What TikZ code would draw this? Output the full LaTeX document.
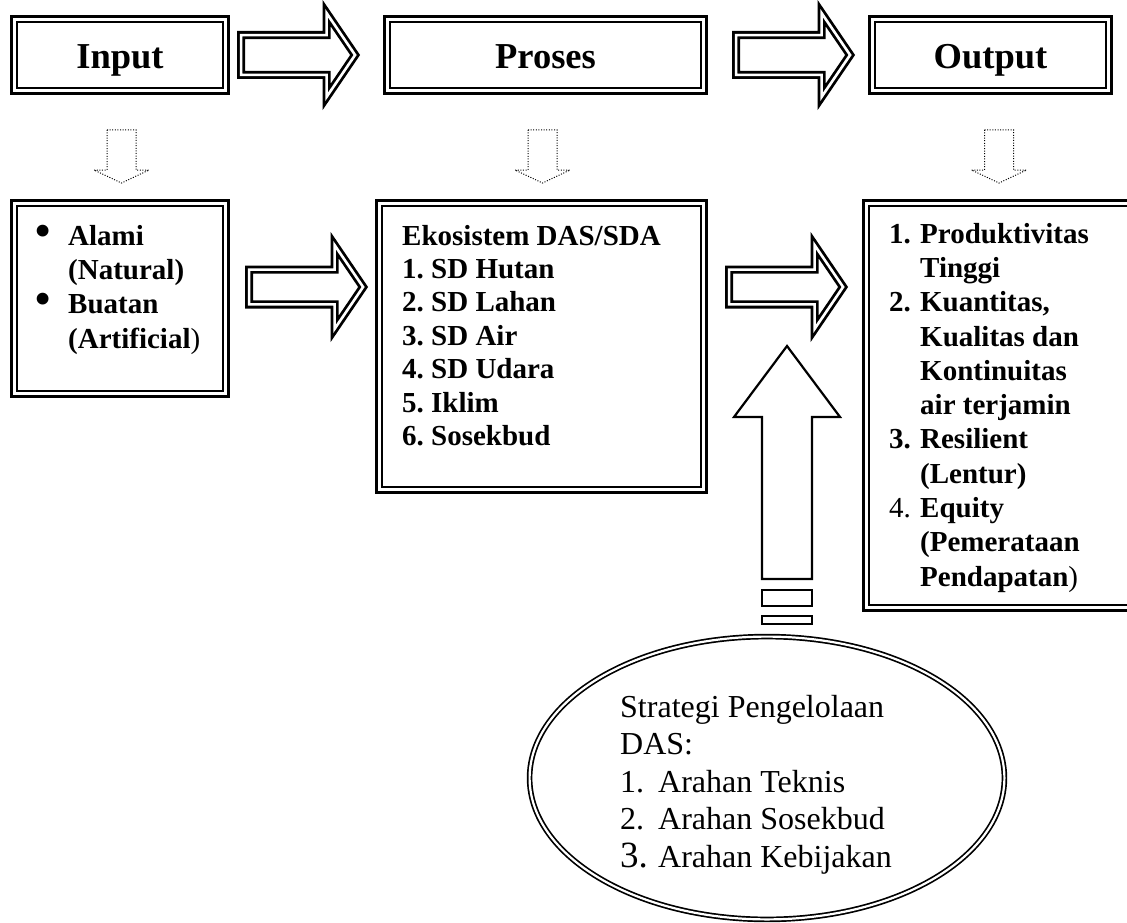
\documentclass[tikz,border=0pt]{standalone}
\usepackage{fontspec}
\usepackage{graphicx}
\setmainfont{Liberation Serif}
\usetikzlibrary{shapes.geometric}
\frenchspacing
\newcommand\judulfont{\fontsize{36.5}{40}\selectfont\bfseries}
\newcommand\isifont{\fontsize{29}{34.3}\selectfont\bfseries}
\newcommand\prosesfont{\fontsize{29}{33.4}\selectfont\bfseries}
\newcommand\elipsfont{\fontsize{32}{37.5}\selectfont}
\newcommand\titikbesar{\hspace*{1pt}\scalebox{1.5}{\textbullet}}

\begin{document}
\begin{tikzpicture}[x=1pt,y=-1pt]
 % definisi gaya
  \tikzstyle{kotak}=[rectangle,draw,double,double distance=2.6pt,line width=2.8pt,inner sep=0pt]
  \tikzstyle{judul}=[kotak,minimum height=71.5pt,font=\judulfont,text height=30pt,text depth=2pt]
  \tikzstyle{panah}=[draw,double,double distance=2.6pt,line width=2.8pt]
  \tikzstyle{titik}=[draw,line width=1pt,dash pattern=on 1pt off 1.6pt]
  \tikzstyle{isi}=[anchor=north west,align=left,inner sep=0pt]
  \clip (0,0) rectangle (1127,923);
  \fill[white] (0,0) rectangle (1127,923);
 % kotak atas
  \node[judul,minimum width=211.5pt] (input) at (120,55) {Input};
  \node[judul,minimum width=316.5pt] (proses) at (545.5,55) {Proses};
  \node[judul,minimum width=236.5pt] (output) at (990.5,55) {Output};
 % kotak isi
  \node[kotak,minimum width=211.5pt,minimum height=190.5pt] (alami) at (120,298.5) {};
  \node[kotak,minimum width=324.5pt,minimum height=286.5pt] (ekosistem) at (541.5,346.5) {};
  \node[kotak,minimum width=269.5pt,minimum height=404.5pt] (hasil) at (1001,405.5) {};
  \node[isi,font=\isifont] (alamitxt) at (34,221) {\strut\makebox[34pt][l]{\titikbesar}Alami\\
    \hspace*{34pt}(Natural)\\
    \makebox[34pt][l]{\titikbesar}Buatan\\
    \hspace*{34pt}(Artificial{\mdseries )}};
  \node[isi,font=\prosesfont] (ekosistemtxt) at (402,221.6) {\strut Ekosistem DAS/SDA\\
    1. SD Hutan\\ 2. SD Lahan\\ 3. SD Air\\ 4. SD Udara\\ 5. Iklim\\ 6. Sosekbud};
  \node[isi,font=\isifont] (hasiltxt) at (889,218.9) {\strut\makebox[31pt][l]{1.}Produktivitas\\
    \hspace*{31pt}Tinggi\\
    \makebox[31pt][l]{2.}Kuantitas,\\
    \hspace*{31pt}Kualitas dan\\
    \hspace*{31pt}Kontinuitas\\
    \hspace*{31pt}air terjamin\\
    \makebox[31pt][l]{3.}Resilient\\
    \hspace*{31pt}(Lentur)\\
    \makebox[31pt][l]{\mdseries 4.}Equity\\
    \hspace*{31pt}(Pemerataan\\
    \hspace*{31pt}Pendapatan{\mdseries )}};
 % panah besar
  \draw[panah,shift={(241.1,55)}] (0,-19.9) -- (85.5,-19.9) -- (85.5,-41.9) -- (114,0)
    -- (85.5,41.9) -- (85.5,19.9) -- (0,19.9) -- cycle;
  \draw[panah,shift={(736.1,55)}] (0,-19.9) -- (85.5,-19.9) -- (85.5,-41.9) -- (114,0)
    -- (85.5,41.9) -- (85.5,19.9) -- (0,19.9) -- cycle;
  \draw[panah,shift={(249.1,287)}] (0,-17.4) -- (85.5,-17.4) -- (85.5,-41.9) -- (114,0)
    -- (85.5,41.9) -- (85.5,17.4) -- (0,17.4) -- cycle;
  \draw[panah,shift={(729.1,287)}] (0,-17.4) -- (85.5,-17.4) -- (85.5,-41.9) -- (114,0)
    -- (85.5,41.9) -- (85.5,17.4) -- (0,17.4) -- cycle;
 % panah titik-titik
  \foreach \x in {121.5,542.5,999}
    \draw[titik,shift={(\x,130)}] (-14.5,0) -- (14.5,0) -- (14.5,40) -- (27.5,40) -- (0,53)
      -- (-27.5,40) -- (-14.5,40) -- cycle;
 % strategi
  \node[ellipse,draw,double,double distance=2.2pt,line width=1.7pt,minimum width=474.8pt,
    minimum height=282.8pt,inner sep=0pt] (strategi) at (767,778) {};
  \node[isi,font=\elipsfont] (strategitxt) at (620,690.75) {\strut Strategi Pengelolaan\\
    DAS:\\
    \makebox[38pt][l]{1.}Arahan Teknis\\
    \makebox[38pt][l]{2.}Arahan Sosekbud\\
    \makebox[38pt][l]{\fontsize{37}{37}\selectfont 3.}Arahan Kebijakan};
  \draw[line width=2.2pt,shift={(787,346)}] (0,0) -- (53,71) -- (25,71) -- (25,233)
    -- (-25,233) -- (-25,71) -- (-53,71) -- cycle;
  \draw[line width=2.2pt] (762,590) rectangle (812,606);
  \draw[line width=2.2pt] (762,616) rectangle (812,624);
\end{tikzpicture}
\end{document}
